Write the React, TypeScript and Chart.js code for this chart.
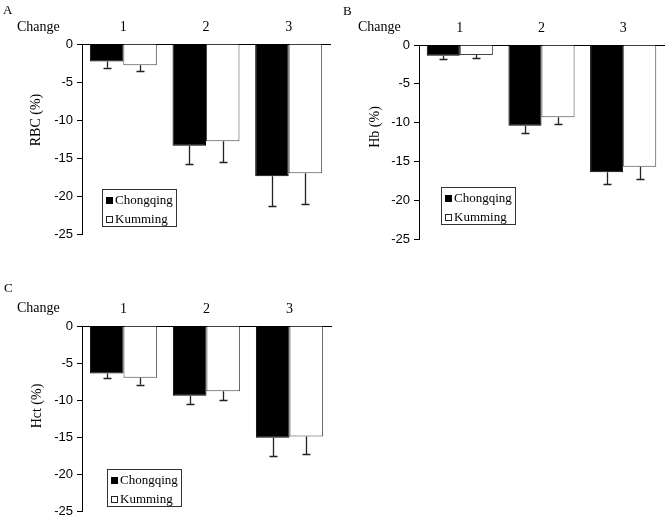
import React, { useEffect, useRef } from 'react';
import { Chart, registerables } from 'chart.js';

Chart.register(...registerables);

const categories = ['1', '2', '3'];
const seriesNames = ['Chongqing', 'Kumming'];
const yTicks = [0, -5, -10, -15, -20, -25];

const rbcChongqing = [-2.3, -13.4, -17.4];
const rbcChongqingErr = [0.8, 2.4, 3.9];
const rbcKumming = [-2.8, -12.8, -17.0];
const rbcKummingErr = [0.8, 2.7, 4.1];

const hbChongqing = [-1.4, -10.4, -16.4];
const hbChongqingErr = [0.4, 0.9, 1.5];
const hbKumming = [-1.3, -9.3, -15.7];
const hbKummingErr = [0.4, 0.9, 1.6];

const hctChongqing = [-6.4, -9.4, -15.1];
const hctChongqingErr = [0.6, 1.1, 2.4];
const hctKumming = [-7.0, -8.8, -14.9];
const hctKummingErr = [0.9, 1.2, 2.4];

type Panel = {
  letter: string;
  yTitle: string;
  cq: number[];
  cqErr: number[];
  km: number[];
  kmErr: number[];
  box: { left: number; top: number; w: number; h: number };
  area: { l: number; r: number; t: number; b: number };
  letterPos: { x: number; y: number };
  changePos: { x: number; y: number };
  titlePos: { x: number; y: number };
  legendPos: { x: number; y: number };
};

const panels: Panel[] = [
  {
    letter: 'A', yTitle: 'RBC (%)',
    cq: rbcChongqing, cqErr: rbcChongqingErr, km: rbcKumming, kmErr: rbcKummingErr,
    box: { left: 0, top: 0, w: 335, h: 262 },
    area: { l: 82, r: 330, t: 44, b: 234 },
    letterPos: { x: 3, y: 14 },
    changePos: { x: 17, y: 31 },
    titlePos: { x: 36, y: 120 },
    legendPos: { x: 102, y: 189 },
  },
  {
    letter: 'B', yTitle: 'Hb (%)',
    cq: hbChongqing, cqErr: hbChongqingErr, km: hbKumming, kmErr: hbKummingErr,
    box: { left: 335, top: 0, w: 335, h: 262 },
    area: { l: 84, r: 329, t: 45, b: 239 },
    letterPos: { x: 8, y: 15 },
    changePos: { x: 23, y: 31 },
    titlePos: { x: 40, y: 127 },
    legendPos: { x: 106, y: 187 },
  },
  {
    letter: 'C', yTitle: 'Hct (%)',
    cq: hctChongqing, cqErr: hctChongqingErr, km: hctKumming, kmErr: hctKummingErr,
    box: { left: 0, top: 262, w: 335, h: 261 },
    area: { l: 82, r: 331, t: 64, b: 252 },
    letterPos: { x: 4, y: 30 },
    changePos: { x: 17, y: 50 },
    titlePos: { x: 37, y: 144 },
    legendPos: { x: 107, y: 207 },
  },
];

const SERIF = '"Liberation Serif", "Times New Roman", serif';
const SANS = '"Liberation Sans", Arial, sans-serif';

function makePlugin(p: Panel) {
  return {
    id: 'decor' + p.letter,
    afterDatasetsDraw(chart: any) {
      const ctx = chart.ctx;
      const yScale = chart.scales.y;
      ctx.save();
      ctx.strokeStyle = '#222';
      ctx.lineWidth = 1.3;
      chart.data.datasets.forEach((ds: any, i: number) => {
        const meta = chart.getDatasetMeta(i);
        meta.data.forEach((el: any, j: number) => {
          const v = ds.data[j];
          const e = ds.errors[j];
          const x = Math.round(el.x) + 0.5;
          const y0 = el.y;
          const y1 = yScale.getPixelForValue(v - e);
          ctx.beginPath();
          ctx.moveTo(x, y0);
          ctx.lineTo(x, y1);
          ctx.moveTo(x - 4, Math.round(y1) + 0.5);
          ctx.lineTo(x + 4, Math.round(y1) + 0.5);
          ctx.stroke();
        });
      });
      ctx.restore();
    },
    afterDraw(chart: any) {
      const ctx = chart.ctx;
      ctx.save();
      ctx.fillStyle = '#000';
      ctx.textBaseline = 'alphabetic';
      ctx.textAlign = 'left';
      ctx.font = `13px ${SERIF}`;
      ctx.fillText(p.letter, p.letterPos.x, p.letterPos.y);
      ctx.font = `14px ${SERIF}`;
      ctx.fillText('Change', p.changePos.x, p.changePos.y);
      // y title
      ctx.save();
      ctx.translate(p.titlePos.x, p.titlePos.y);
      ctx.rotate(-Math.PI / 2);
      ctx.textAlign = 'center';
      ctx.textBaseline = 'middle';
      ctx.font = `14px ${SERIF}`;
      ctx.fillText(p.yTitle, 0, 0);
      ctx.restore();
      // legend
      const lx = p.legendPos.x;
      const ly = p.legendPos.y;
      ctx.font = `13px ${SERIF}`;
      const tw = Math.max(...seriesNames.map((n) => ctx.measureText(n).width));
      const w = Math.round(4 + 7 + 2 + tw + 3);
      const h = 37;
      ctx.strokeStyle = '#333';
      ctx.lineWidth = 1;
      ctx.strokeRect(lx + 0.5, ly + 0.5, w, h);
      chart.data.datasets.forEach((ds: any, i: number) => {
        const cy = ly + 11 + i * 19;
        const sx = lx + 4;
        if (i === 0) {
          ctx.fillStyle = '#000';
          ctx.fillRect(sx, cy - 3, 7, 7);
        } else {
          ctx.fillStyle = '#fff';
          ctx.fillRect(sx, cy - 3, 7, 7);
          ctx.strokeStyle = '#222';
          ctx.strokeRect(sx + 0.5, cy - 2.5, 6, 6);
        }
        ctx.fillStyle = '#000';
        ctx.textBaseline = 'middle';
        ctx.fillText(ds.label, sx + 9, cy + 1);
      });
      ctx.restore();
    },
  };
}

function PanelChart({ p }: { p: Panel }) {
  const ref = useRef<HTMLCanvasElement | null>(null);
  useEffect(() => {
    if (!ref.current) return;
    const chart = new Chart(ref.current, {
      type: 'bar',
      data: {
        labels: categories,
        datasets: [
          {
            label: seriesNames[0], data: p.cq, errors: p.cqErr,
            backgroundColor: '#000', borderColor: '#000', borderWidth: 1,
            categoryPercentage: 0.81, barPercentage: 1,
          } as any,
          {
            label: seriesNames[1], data: p.km, errors: p.kmErr,
            backgroundColor: '#fff', borderColor: '#444', borderWidth: 1,
            categoryPercentage: 0.81, barPercentage: 1,
          } as any,
        ],
      },
      options: {
        animation: false,
        responsive: false,
        devicePixelRatio: 1,
        layout: { padding: { left: 0, top: 0, right: p.box.w - p.area.r, bottom: p.box.h - p.area.b } },
        plugins: { legend: { display: false }, tooltip: { enabled: false } },
        scales: {
          x: {
            position: 'top',
            grid: { display: false, drawTicks: false },
            border: { display: true, color: '#000', width: 1 },
            ticks: { font: { family: SERIF, size: 14 }, color: '#000', padding: 8 },
            afterFit: (s: any) => { s.height = p.area.t; },
          },
          y: {
            min: -25,
            max: 0,
            afterBuildTicks: (s: any) => { s.ticks = yTicks.map((v) => ({ value: v })); },
            ticks: { font: { family: SANS, size: 13 }, color: '#000', padding: 4 },
            grid: { display: true, drawOnChartArea: false, drawTicks: true, tickLength: 5, color: '#000' },
            border: { display: true, color: '#000', width: 1 },
            afterFit: (s: any) => { s.width = p.area.l; },
          },
        },
      } as any,
      plugins: [makePlugin(p)],
    });
    return () => chart.destroy();
  }, [p]);
  return (
    <canvas
      ref={ref}
      width={p.box.w}
      height={p.box.h}
      style={{ position: 'absolute', left: p.box.left, top: p.box.top, width: p.box.w, height: p.box.h }}
    />
  );
}

export default function App() {
  return (
    <div style={{ position: 'absolute', left: 0, top: 0, width: 670, height: 523, background: '#fff' }}>
      {panels.map((p) => (
        <PanelChart key={p.letter} p={p} />
      ))}
    </div>
  );
}
